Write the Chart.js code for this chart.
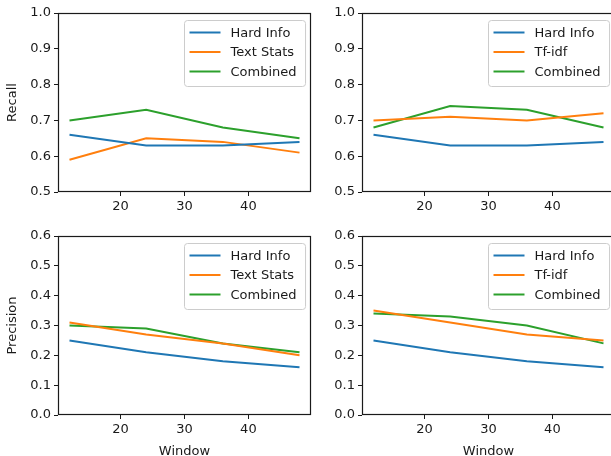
<!DOCTYPE html>
<html>
<head>
<meta charset="utf-8">
<script src="https://cdn.jsdelivr.net/npm/chart.js@4"></script>
<style>
body { margin: 0; width: 611px; height: 456px; overflow: hidden; background: #fff; position: relative; }
canvas { position: absolute; }
</style>
</head>
<body>
<canvas id="recallText" width="312" height="222" style="left:0;top:0"></canvas>
<canvas id="recallTfidf" width="312" height="222" style="left:304px;top:0"></canvas>
<canvas id="precText" width="312" height="236" style="left:0;top:223px"></canvas>
<canvas id="precTfidf" width="312" height="236" style="left:304px;top:223px"></canvas>
<script>
// window sizes on the x axis
const windows = [12, 24, 36, 48];
const xTicks = [20, 30, 40];
const recallTicks = [0.5, 0.6, 0.7, 0.8, 0.9, 1.0];
const precTicks = [0.0, 0.1, 0.2, 0.3, 0.4, 0.5, 0.6];

// recall
const recallHard = [0.66, 0.63, 0.63, 0.64];
const recallTextStats = [0.59, 0.65, 0.64, 0.61];
const recallCombinedText = [0.70, 0.73, 0.68, 0.65];
const recallTfidf = [0.70, 0.71, 0.70, 0.72];
const recallCombinedTfidf = [0.68, 0.74, 0.73, 0.68];

// precision
const precHard = [0.25, 0.21, 0.18, 0.16];
const precTextStats = [0.31, 0.27, 0.24, 0.20];
const precCombinedText = [0.30, 0.29, 0.24, 0.21];
const precTfidf = [0.35, 0.31, 0.27, 0.25];
const precCombinedTfidf = [0.34, 0.33, 0.30, 0.24];

const BLUE = '#1f77b4', ORANGE = '#ff7f0e', GREEN = '#2ca02c';
const FONT = { family: '"DejaVu Sans"', size: 13 };
const INK = '#1a1a1a';

Chart.defaults.font.family = FONT.family;
Chart.defaults.font.size = FONT.size;
Chart.defaults.color = INK;

function points(vals) {
    return vals.map((v, i) => ({ x: windows[i], y: v }));
}

function line(label, vals, color) {
    return {
        label: label,
        data: points(vals),
        borderColor: color,
        backgroundColor: color,
        borderWidth: 2,
        pointRadius: 0,
        tension: 0,
        fill: false
    };
}

// full box around the plot, like matplotlib
const frame = {
    id: 'frame',
    afterDatasetsDraw(chart) {
        const a = chart.chartArea, ctx = chart.ctx;
        ctx.save();
        ctx.strokeStyle = INK;
        ctx.lineWidth = 1.2;
        ctx.strokeRect(Math.round(a.left) + 0.5, Math.round(a.top) + 0.5,
            Math.round(a.right - a.left) - 1, Math.round(a.bottom - a.top) - 1);
        ctx.restore();
    }
};

// legend box in the upper right corner of the plot
const boxLegend = {
    id: 'boxLegend',
    afterDraw(chart) {
        const ctx = chart.ctx, a = chart.chartArea;
        const sets = chart.data.datasets;
        ctx.save();
        ctx.font = '13px "DejaVu Sans"';
        const tw = Math.max(...sets.map(d => ctx.measureText(d.label).width));
        const w = 5 + 31 + 10 + tw + 9, h = 66;
        const x = Math.round(a.right - 6 - w) + 0.5, y = Math.round(a.top + 7) + 0.5;
        ctx.beginPath();
        ctx.roundRect(x, y, w, h, 3);
        ctx.fillStyle = 'rgba(255,255,255,0.8)';
        ctx.fill();
        ctx.strokeStyle = '#cccccc';
        ctx.lineWidth = 1;
        ctx.stroke();
        sets.forEach((d, i) => {
            const ry = y + 12 + i * 19.5;
            ctx.strokeStyle = d.borderColor;
            ctx.lineWidth = 2;
            ctx.beginPath();
            ctx.moveTo(x + 5, ry);
            ctx.lineTo(x + 36, ry);
            ctx.stroke();
            ctx.fillStyle = INK;
            ctx.textBaseline = 'middle';
            ctx.fillText(d.label, x + 46, ry + 1);
        });
        ctx.restore();
    }
};

function makeChart(id, sets, yTicks, yTitle, xTitle, xHeight) {
    const yMin = yTicks[0], yMax = yTicks[yTicks.length - 1];
    return new Chart(document.getElementById(id), {
        type: 'line',
        data: { datasets: sets },
        options: {
            responsive: false,
            animation: false,
            layout: { padding: { top: 13, right: 1, left: 0, bottom: 0 } },
            plugins: { legend: { display: false }, tooltip: { enabled: false } },
            scales: {
                x: {
                    type: 'linear',
                    min: 10.2,
                    max: 49.8,
                    afterBuildTicks: s => { s.ticks = xTicks.map(v => ({ value: v })); },
                    afterFit: s => { s.height = xHeight; },
                    grid: { drawOnChartArea: false, drawTicks: true, tickLength: 4, color: INK },
                    border: { display: false },
                    ticks: { padding: 3, color: INK, maxRotation: 0 },
                    title: { display: !!xTitle, text: xTitle, color: INK, padding: { top: 1, bottom: 0 } }
                },
                y: {
                    min: yMin,
                    max: yMax,
                    afterBuildTicks: s => { s.ticks = yTicks.map(v => ({ value: v })); },
                    afterFit: s => { s.width = 58; },
                    grid: { drawOnChartArea: false, drawTicks: true, tickLength: 4, color: INK },
                    border: { display: false },
                    ticks: { padding: 3, color: INK, callback: v => v.toFixed(1) },
                    title: { display: !!yTitle, text: yTitle, color: INK, padding: { top: 5, bottom: 0 } }
                }
            }
        },
        plugins: [frame, boxLegend]
    });
}

makeChart('recallText', [
    line('Hard Info', recallHard, BLUE),
    line('Text Stats', recallTextStats, ORANGE),
    line('Combined', recallCombinedText, GREEN)
], recallTicks, 'Recall', '', 30);

makeChart('recallTfidf', [
    line('Hard Info', recallHard, BLUE),
    line('Tf-idf', recallTfidf, ORANGE),
    line('Combined', recallCombinedTfidf, GREEN)
], recallTicks, '', '', 30);

makeChart('precText', [
    line('Hard Info', precHard, BLUE),
    line('Text Stats', precTextStats, ORANGE),
    line('Combined', precCombinedText, GREEN)
], precTicks, 'Precision', 'Window', 44);

makeChart('precTfidf', [
    line('Hard Info', precHard, BLUE),
    line('Tf-idf', precTfidf, ORANGE),
    line('Combined', precCombinedTfidf, GREEN)
], precTicks, '', 'Window', 44);
</script>
</body>
</html>
